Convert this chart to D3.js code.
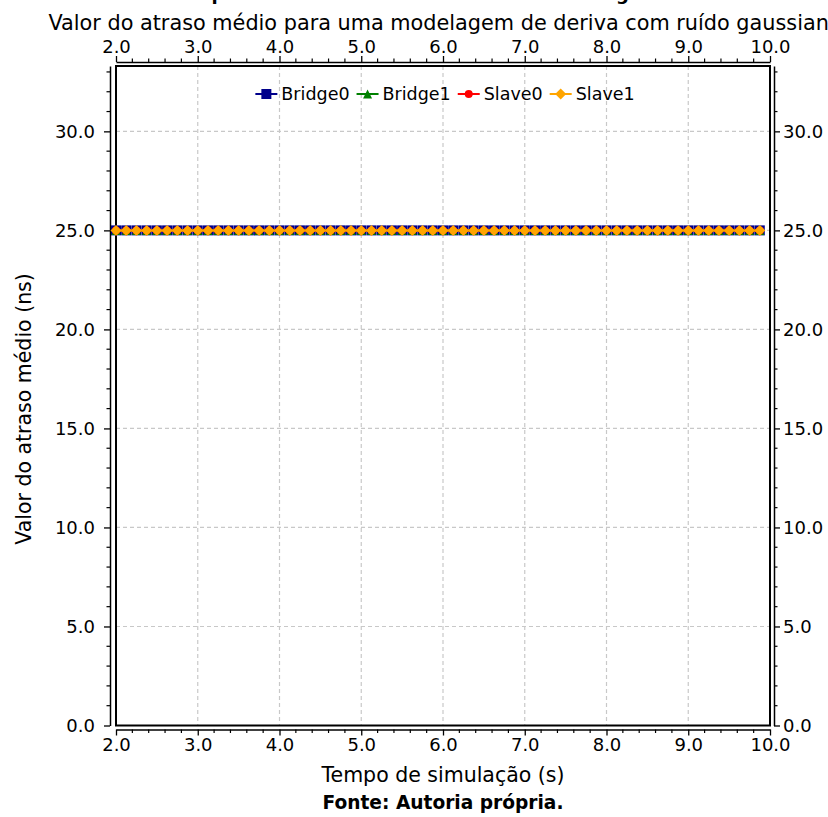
<!DOCTYPE html>
<html>
<head>
<meta charset="utf-8">
<script src="https://cdn.jsdelivr.net/npm/d3@7"></script>
<style>
  html, body { margin: 0; padding: 0; background: #fff; }
  svg { display: block; font-family: "DejaVu Sans", sans-serif; }
</style>
</head>
<body>
<svg id="chart" width="828" height="817"></svg>
<script>
// ---------- DATA ----------
const timeValues = [2.0, 2.125, 2.25, 2.375, 2.5, 2.625, 2.75, 2.875,
  3.0, 3.125, 3.25, 3.375, 3.5, 3.625, 3.75, 3.875,
  4.0, 4.125, 4.25, 4.375, 4.5, 4.625, 4.75, 4.875,
  5.0, 5.125, 5.25, 5.375, 5.5, 5.625, 5.75, 5.875,
  6.0, 6.125, 6.25, 6.375, 6.5, 6.625, 6.75, 6.875,
  7.0, 7.125, 7.25, 7.375, 7.5, 7.625, 7.75, 7.875,
  8.0, 8.125, 8.25, 8.375, 8.5, 8.625, 8.75, 8.875,
  9.0, 9.125, 9.25, 9.375, 9.5, 9.625, 9.75, 9.875];
const bridge0 = [25.0, 25.0, 25.0, 25.0, 25.0, 25.0, 25.0, 25.0, 25.0, 25.0, 25.0, 25.0, 25.0, 25.0, 25.0, 25.0,
  25.0, 25.0, 25.0, 25.0, 25.0, 25.0, 25.0, 25.0, 25.0, 25.0, 25.0, 25.0, 25.0, 25.0, 25.0, 25.0,
  25.0, 25.0, 25.0, 25.0, 25.0, 25.0, 25.0, 25.0, 25.0, 25.0, 25.0, 25.0, 25.0, 25.0, 25.0, 25.0,
  25.0, 25.0, 25.0, 25.0, 25.0, 25.0, 25.0, 25.0, 25.0, 25.0, 25.0, 25.0, 25.0, 25.0, 25.0, 25.0];
const bridge1 = [25.0, 25.0, 25.0, 25.0, 25.0, 25.0, 25.0, 25.0, 25.0, 25.0, 25.0, 25.0, 25.0, 25.0, 25.0, 25.0,
  25.0, 25.0, 25.0, 25.0, 25.0, 25.0, 25.0, 25.0, 25.0, 25.0, 25.0, 25.0, 25.0, 25.0, 25.0, 25.0,
  25.0, 25.0, 25.0, 25.0, 25.0, 25.0, 25.0, 25.0, 25.0, 25.0, 25.0, 25.0, 25.0, 25.0, 25.0, 25.0,
  25.0, 25.0, 25.0, 25.0, 25.0, 25.0, 25.0, 25.0, 25.0, 25.0, 25.0, 25.0, 25.0, 25.0, 25.0, 25.0];
const slave0 = [25.0, 25.0, 25.0, 25.0, 25.0, 25.0, 25.0, 25.0, 25.0, 25.0, 25.0, 25.0, 25.0, 25.0, 25.0, 25.0,
  25.0, 25.0, 25.0, 25.0, 25.0, 25.0, 25.0, 25.0, 25.0, 25.0, 25.0, 25.0, 25.0, 25.0, 25.0, 25.0,
  25.0, 25.0, 25.0, 25.0, 25.0, 25.0, 25.0, 25.0, 25.0, 25.0, 25.0, 25.0, 25.0, 25.0, 25.0, 25.0,
  25.0, 25.0, 25.0, 25.0, 25.0, 25.0, 25.0, 25.0, 25.0, 25.0, 25.0, 25.0, 25.0, 25.0, 25.0, 25.0];
const slave1 = [25.0, 25.0, 25.0, 25.0, 25.0, 25.0, 25.0, 25.0, 25.0, 25.0, 25.0, 25.0, 25.0, 25.0, 25.0, 25.0,
  25.0, 25.0, 25.0, 25.0, 25.0, 25.0, 25.0, 25.0, 25.0, 25.0, 25.0, 25.0, 25.0, 25.0, 25.0, 25.0,
  25.0, 25.0, 25.0, 25.0, 25.0, 25.0, 25.0, 25.0, 25.0, 25.0, 25.0, 25.0, 25.0, 25.0, 25.0, 25.0,
  25.0, 25.0, 25.0, 25.0, 25.0, 25.0, 25.0, 25.0, 25.0, 25.0, 25.0, 25.0, 25.0, 25.0, 25.0, 25.0];
const seriesNames = ["Bridge0", "Bridge1", "Slave0", "Slave1"];
const xTicks = [2, 3, 4, 5, 6, 7, 8, 9, 10];
const yTicks = [0, 5, 10, 15, 20, 25, 30];
const xDomain = [2, 10];
const yDomain = [0, 33.3];
const titleText = "Comportamento do atraso médio com ruído gaussiano";
const subtitleText = "Valor do atraso médio para uma modelagem de deriva com ruído gaussiano";
const xLabel = "Tempo de simulação (s)";
const yLabel = "Valor do atraso médio (ns)";
const sourceText = "Fonte: Autoria própria.";

// ---------- LAYOUT / STYLE ----------
const L = 116, R = 770, T = 66, B = 725.5;
const spineOff = { left: 110, right: 774, top: 62, bottom: 729.5 };

// matplotlib-like marker shapes (size = bounding box side squared)
const mplTriangle = { draw(ctx, size) { const r = Math.sqrt(size) / 2;
  ctx.moveTo(0, -r); ctx.lineTo(r, r); ctx.lineTo(-r, r); ctx.closePath(); } };
const mplSquare = { draw(ctx, size) { const r = Math.sqrt(size) / 2;
  ctx.moveTo(-r, -r); ctx.lineTo(r, -r); ctx.lineTo(r, r); ctx.lineTo(-r, r); ctx.closePath(); } };
const mplDiamond = { draw(ctx, size) { const r = Math.sqrt(size) / 2;
  ctx.moveTo(0, -r); ctx.lineTo(r, 0); ctx.lineTo(0, r); ctx.lineTo(-r, 0); ctx.closePath(); } };
const mplCircle = { draw(ctx, size) { const r = Math.sqrt(size) / 2;
  ctx.moveTo(r, 0); ctx.arc(0, 0, r, 0, 2 * Math.PI); } };

const styles = [
  { color: "#00008b", symbol: mplSquare, size: 100 },
  { color: "#008000", symbol: mplTriangle, size: 81 },
  { color: "#ff0000", symbol: mplCircle, size: 64 },
  { color: "#ffa500", symbol: mplDiamond, size: 121 }
];
const allSeries = [bridge0, bridge1, slave0, slave1];

const svg = d3.select("#chart");
const x = d3.scaleLinear().domain(xDomain).range([L, R]);
const y = d3.scaleLinear().domain(yDomain).range([B, T]);
const fmt = d3.format(".1f");
const tickFont = "18px";

// grid
const grid = svg.append("g");
grid.selectAll(".gx").data(xTicks.slice(1, -1)).join("line")
  .attr("x1", d => x(d)).attr("x2", d => x(d)).attr("y1", T).attr("y2", B)
  .attr("stroke", "#c8c8c8").attr("stroke-width", 1.2).attr("stroke-dasharray", "4,3");
grid.selectAll(".gy").data(yTicks.slice(1)).join("line")
  .attr("x1", L).attr("x2", R).attr("y1", d => y(d)).attr("y2", d => y(d))
  .attr("stroke", "#c8c8c8").attr("stroke-width", 1.2).attr("stroke-dasharray", "4,3");

// frame
svg.append("rect").attr("x", L).attr("y", T).attr("width", R - L).attr("height", B - T)
  .attr("fill", "none").attr("stroke", "#000").attr("stroke-width", 2);

// minor ticks data
const xMinor = d3.range(0, 41).map(i => 2 + i * 0.2).filter(v => Math.abs(v - Math.round(v)) > 1e-6);
const yMinor = d3.range(0, 34).filter(v => v % 5 !== 0);

function styleAxis(g) {
  g.select(".domain").attr("stroke-width", 1.5);
  g.selectAll(".tick line").attr("stroke-width", 1.3);
  g.selectAll(".tick text").attr("font-size", tickFont).attr("font-family", "DejaVu Sans").attr("fill", "#000");
}

// bottom
const gb = svg.append("g").attr("transform", `translate(0,${spineOff.bottom})`)
  .call(d3.axisBottom(x).tickValues(xTicks).tickFormat(fmt).tickSize(6).tickSizeOuter(0).tickPadding(3));
styleAxis(gb);
gb.append("g").selectAll("line").data(xMinor).join("line")
  .attr("x1", d => x(d)).attr("x2", d => x(d)).attr("y1", 0).attr("y2", 3.5).attr("stroke", "#000").attr("stroke-width", 1.2);
// top
const gt = svg.append("g").attr("transform", `translate(0,${spineOff.top})`)
  .call(d3.axisTop(x).tickValues(xTicks).tickFormat(fmt).tickSize(6).tickSizeOuter(0).tickPadding(3));
styleAxis(gt);
gt.append("g").selectAll("line").data(xMinor).join("line")
  .attr("x1", d => x(d)).attr("x2", d => x(d)).attr("y1", 0).attr("y2", -3.5).attr("stroke", "#000").attr("stroke-width", 1.2);
// left
const gl = svg.append("g").attr("transform", `translate(${spineOff.left},0)`)
  .call(d3.axisLeft(y).tickValues(yTicks).tickFormat(fmt).tickSize(6).tickSizeOuter(0).tickPadding(9));
styleAxis(gl);
gl.append("g").selectAll("line").data(yMinor).join("line")
  .attr("y1", d => y(d)).attr("y2", d => y(d)).attr("x1", 0).attr("x2", -3.5).attr("stroke", "#000").attr("stroke-width", 1.2);
// right
const gr = svg.append("g").attr("transform", `translate(${spineOff.right},0)`)
  .call(d3.axisRight(y).tickValues(yTicks).tickFormat(fmt).tickSize(6).tickSizeOuter(0).tickPadding(3));
styleAxis(gr);
gr.append("g").selectAll("line").data(yMinor).join("line")
  .attr("y1", d => y(d)).attr("y2", d => y(d)).attr("x1", 0).attr("x2", 3.5).attr("stroke", "#000").attr("stroke-width", 1.2);

// series
const line = d3.line().x((d, i) => x(timeValues[i])).y(d => y(d));
allSeries.forEach((vals, si) => {
  const st = styles[si];
  const g = svg.append("g");
  g.append("path").datum(vals).attr("d", line).attr("fill", "none")
    .attr("stroke", st.color).attr("stroke-width", 2);
  g.selectAll("path.m").data(vals).join("path").attr("class", "m")
    .attr("transform", (d, i) => `translate(${x(timeValues[i])},${y(d)})`)
    .attr("d", d3.symbol().type(st.symbol).size(st.size))
    .attr("fill", st.color);
});

// legend
const leg = svg.append("g");
const legFont = 17.5, handle = 22, gapAfterHandle = 4, itemGap = 7;
const items = seriesNames.map((n, i) => {
  const gi = leg.append("g");
  gi.append("line").attr("x1", 0).attr("x2", handle).attr("y1", 0).attr("y2", 0)
    .attr("stroke", styles[i].color).attr("stroke-width", 2);
  gi.append("path").attr("transform", `translate(${handle / 2},0)`)
    .attr("d", d3.symbol().type(styles[i].symbol).size(styles[i].size)).attr("fill", styles[i].color);
  const t = gi.append("text").attr("x", handle + gapAfterHandle).attr("y", 0).attr("dy", "0.36em")
    .attr("font-size", legFont + "px").text(n);
  return { g: gi, w: handle + gapAfterHandle + t.node().getComputedTextLength() };
});
const totalW = d3.sum(items, d => d.w) + itemGap * (items.length - 1);
let cx = 445 - totalW / 2;
items.forEach(it => { it.g.attr("transform", `translate(${cx},94)`); cx += it.w + itemGap; });

// titles
const midX = (L + R) / 2;
svg.append("text").attr("x", midX).attr("y", 0).attr("text-anchor", "middle")
  .attr("font-size", "18px").attr("font-weight", "bold").text(titleText);
svg.append("text").attr("x", midX + 2).attr("y", 30).attr("text-anchor", "middle")
  .attr("font-size", "20.8px").text(subtitleText);
svg.append("text").attr("x", midX).attr("y", 782).attr("text-anchor", "middle")
  .attr("font-size", "20.5px").text(xLabel);
svg.append("text").attr("transform", `translate(31,409) rotate(-90)`).attr("text-anchor", "middle")
  .attr("font-size", "20.5px").text(yLabel);
svg.append("text").attr("x", midX).attr("y", 809).attr("text-anchor", "middle")
  .attr("font-size", "18.6px").attr("font-weight", "bold").text(sourceText);
</script>
</body>
</html>
